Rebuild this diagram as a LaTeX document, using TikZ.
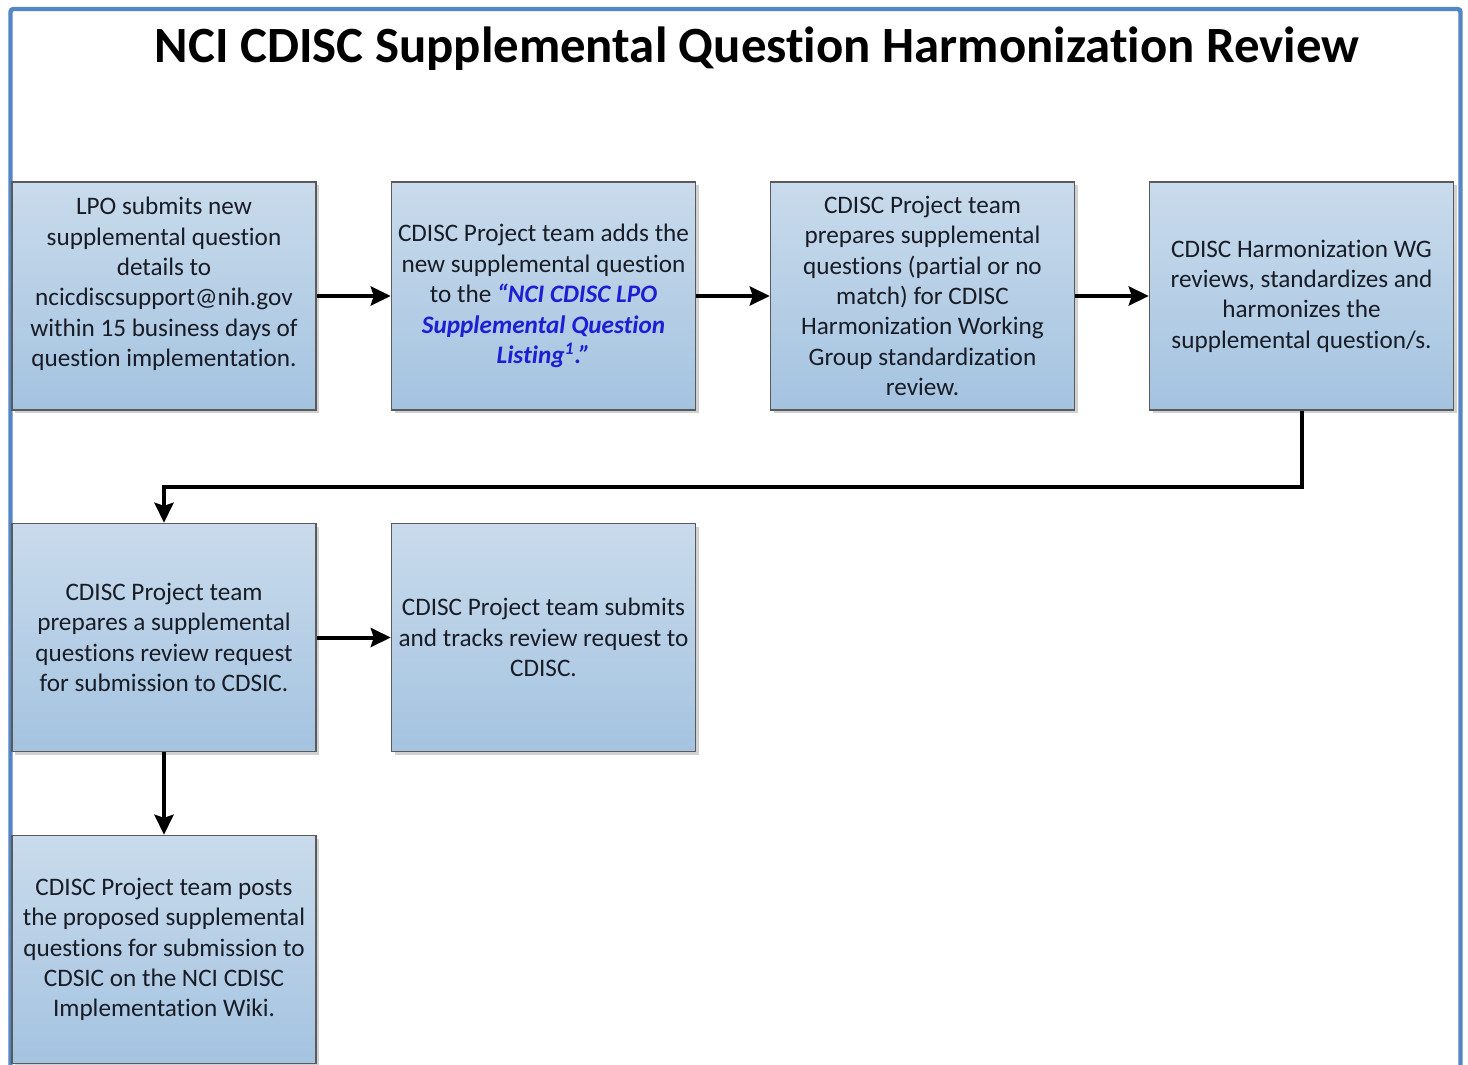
\documentclass[tikz,border=0pt]{standalone}
\usepackage{fontspec}
\setmainfont[RawFeature={-liga;-clig;-dlig;-calt}]{Carlito}
\usetikzlibrary{arrows.meta,shadows,calc}
\definecolor{framecol}{RGB}{84,133,196}
\definecolor{boxtop}{RGB}{201,219,236}
\definecolor{boxbot}{RGB}{164,195,224}
\definecolor{boxedge}{RGB}{90,90,90}
\definecolor{txtcol}{RGB}{24,28,38}
\definecolor{linkblue}{RGB}{30,30,210}
\tikzset{
  stepbox/.style={draw=boxedge, line width=0.7pt, top color=boxtop, bottom color=boxbot,
    minimum width=152pt, minimum height=114pt, inner sep=0pt,
    drop shadow={shadow xshift=1.5pt, shadow yshift=-1.5pt, opacity=0.18, fill=black},
    text=txtcol, align=center, font=\fontsize{12.6pt}{15.2pt}\selectfont},
  txt/.style={text=txtcol, align=center, font=\fontsize{12.6pt}{15.2pt}\selectfont, inner sep=0pt},
  flow/.style={line width=2pt, draw=black, -{Stealth[length=10pt,width=9.5pt,inset=1.5pt]}},
  frameline/.style={draw=framecol, line width=2.2pt, rounded corners=1.5pt},
  titlestyle/.style={font=\fontsize{25.4pt}{30pt}\selectfont\bfseries, text=black, inner sep=0pt},
}
\newcommand{\hl}[1]{\textcolor{linkblue}{\bfseries\itshape #1}}
\newcommand{\Ti}{t\kern0pt i}
\begin{document}
\begin{tikzpicture}[x=0.5pt,y=-0.5pt]
\useasboundingbox[fill=white] (0,0) rectangle (1468,1065);
\draw[frameline] (10.5,1080) -- (10.5,9) -- (1460.5,9) -- (1460.5,1080);
\node[titlestyle] (title) at (757,49) {NCI CDISC Supplemental Ques\Ti{}on Harmoniza\Ti{}on Review};

\node[stepbox] (b1) at (164,296) {};
\node[txt] (t1) at (164,284) {LPO submits new\\supplemental ques\Ti{}on\\details to\\ncicdiscsupport@nih.gov\\within 15 business days of\\ques\Ti{}on implementa\Ti{}on.};
\node[stepbox] (b2) at (543.5,296) {CDISC Project team adds the\\new supplemental ques\Ti{}on\\to the \hl{“NCI CDISC LPO}\\\hl{Supplemental Ques\Ti{}on}\\\hl{Lis\Ti{}ng\textsuperscript{1}.”}};
\node[stepbox] (b3) at (922.5,296) {CDISC Project team\\prepares supplemental\\ques\Ti{}ons (par\Ti{}al or no\\match) for CDISC\\Harmoniza\Ti{}on Working\\Group standardiza\Ti{}on\\review.};
\node[stepbox] (b4) at (1301.5,296) {CDISC Harmoniza\Ti{}on WG\\reviews, standardizes and\\harmonizes the\\supplemental ques\Ti{}on/s.};
\node[stepbox] (b5) at (164,637.5) {CDISC Project team\\prepares a supplemental\\ques\Ti{}ons review request\\for submission to CDSIC.};
\node[stepbox] (b6) at (543.5,637.5) {CDISC Project team submits\\and tracks review request to\\CDISC.};
\node[stepbox] (b7) at (164,949.5) {CDISC Project team posts\\the proposed supplemental\\ques\Ti{}ons for submission to\\CDSIC on the NCI CDISC\\Implementa\Ti{}on Wiki.};

\draw[flow] (b1.east) -- (b2.west);
\draw[flow] (b2.east) -- (b3.west);
\draw[flow] (b3.east) -- (b4.west);
\draw[flow] (b4.south) -- ++(0,76) -| (b5.north);
\draw[flow] (b5.east) -- (b6.west);
\draw[flow] (b5.south) -- (b7.north);
\end{tikzpicture}
\end{document}
